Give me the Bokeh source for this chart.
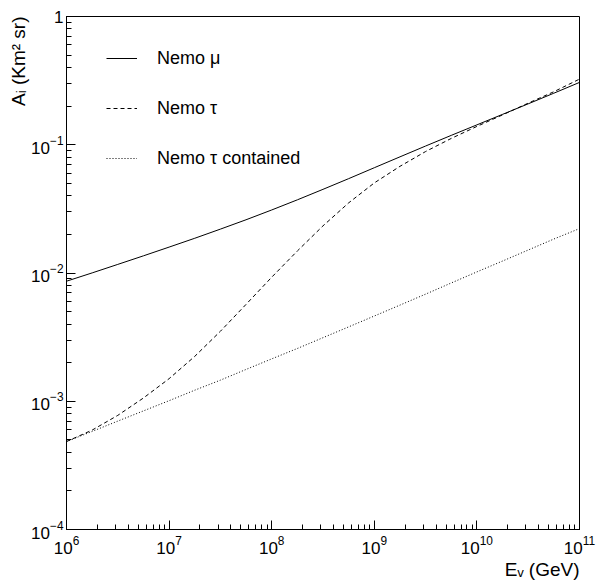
from bokeh.plotting import figure
from bokeh.models import Range1d, LogTicker, Title
from bokeh.embed import file_html
from bokeh.resources import INLINE

# neutrino energy (GeV)
energy = [1.0e6, 1.78e6, 3.16e6, 5.62e6,
          1.0e7, 1.78e7, 3.16e7, 5.62e7,
          1.0e8, 1.78e8, 3.16e8, 5.62e8,
          1.0e9, 1.78e9, 3.16e9, 5.62e9,
          1.0e10, 1.78e10, 3.16e10, 5.62e10,
          1.0e11]

# effective area (Km^2 sr)
nemo_mu = [8.63e-3, 0.01002, 0.01167, 0.01361,
           0.01592, 0.01866, 0.02198, 0.0260,
           0.0310, 0.0372, 0.0449, 0.0544,
           0.0662, 0.0805, 0.0977, 0.1183,
           0.1429, 0.1726, 0.2084, 0.2523,
           0.3062]
nemo_tau = [4.85e-4, 5.96e-4, 7.76e-4, 1.06e-3,
            1.50e-3, 2.24e-3, 3.51e-3, 5.69e-3,
            9.27e-3, 0.01486, 0.0233, 0.0352,
            0.0504, 0.0679, 0.0885, 0.112,
            0.139, 0.171, 0.211, 0.259,
            0.325]
nemo_tau_contained = [4.85e-4, 5.82e-4, 7.00e-4, 8.41e-4,
                      1.01e-3, 1.22e-3, 1.46e-3, 1.77e-3,
                      2.14e-3, 2.58e-3, 3.13e-3, 3.80e-3,
                      4.62e-3, 5.62e-3, 6.84e-3, 8.36e-3,
                      0.0102, 0.0124, 0.0151, 0.0184,
                      0.0222]

series_labels = ["Nemo \u03bc", "Nemo \u03c4", "Nemo \u03c4 contained"]

FONT = "Liberation Sans"

p = figure(width=600, height=580, x_axis_type="log", y_axis_type="log",
           x_range=Range1d(1e6, 1e11), y_range=Range1d(1e-4, 1),
           output_backend="svg", toolbar_location=None,
           min_border_left=66, min_border_right=21, min_border_top=16,
           min_border_bottom=51)

p.grid.visible = False
p.outline_line_color = "black"
p.outline_line_width = 1
p.background_fill_color = "white"
p.border_fill_color = "white"

for ax in (p.xaxis[0], p.yaxis[0]):
    ax.ticker = LogTicker(mantissas=[1], num_minor_ticks=10, desired_num_ticks=6)
    ax.axis_line_color = "black"
    ax.major_tick_in = 9
    ax.major_tick_out = 0
    ax.minor_tick_in = 5
    ax.minor_tick_out = 0
    ax.major_tick_line_color = "black"
    ax.minor_tick_line_color = "black"
    ax.major_label_text_font = FONT
    ax.major_label_text_font_size = "17px"
    ax.major_label_text_color = "black"

p.yaxis[0].major_label_standoff = 3
p.xaxis[0].major_label_standoff = 6
p.yaxis[0].major_label_overrides = {1: "1"}

p.add_layout(Title(text="A\u1d62 (Km\u00b2 sr)", align="right", text_font=FONT,
                   text_font_size="19px", text_font_style="normal",
                   text_color="black", standoff=0, offset=0), "left")
p.add_layout(Title(text="E\u1d65 (GeV)", align="right", text_font=FONT,
                   text_font_size="19px", text_font_style="normal",
                   text_color="black", standoff=0, offset=0), "below")

p.line(energy, nemo_mu, line_color="black", line_width=1,
       legend_label=series_labels[0])
p.line(energy, nemo_tau, line_color="black", line_width=1, line_dash="4 3",
       legend_label=series_labels[1])
p.line(energy, nemo_tau_contained, line_color="black", line_width=1,
       line_dash="1 2", legend_label=series_labels[2])

lg = p.legend[0]
lg.location = (40, 360)
lg.border_line_color = None
lg.background_fill_alpha = 0
lg.padding = 0
lg.margin = 0
lg.spacing = 28
lg.glyph_width = 31
lg.glyph_height = 22
lg.label_height = 22
lg.label_standoff = 20
lg.label_text_font = FONT
lg.label_text_font_size = "18px"
lg.label_text_color = "black"

open("out.html", "w").write(file_html(p, INLINE))
